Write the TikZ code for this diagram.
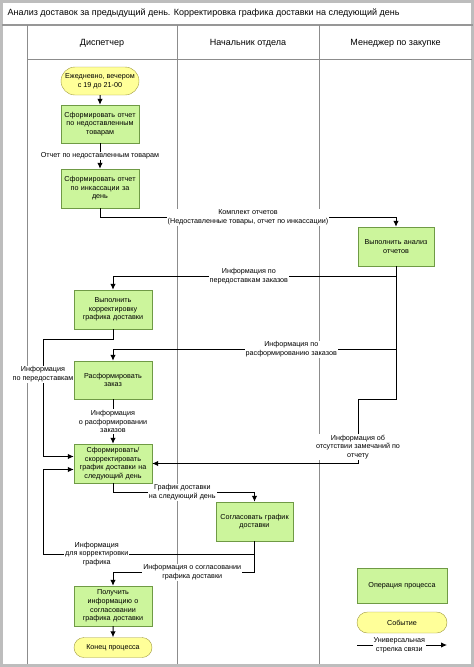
\documentclass[tikz,border=0pt]{standalone}
\usepackage{fontspec}
\setmainfont{Liberation Sans}
\usetikzlibrary{arrows.meta,positioning,shapes.misc}
\definecolor{opfill}{HTML}{CCF59C}
\definecolor{opdraw}{HTML}{6F9A45}
\definecolor{evfill}{HTML}{FFFF99}
\definecolor{evdraw}{HTML}{A09A40}
\definecolor{lanegray}{HTML}{8C8C8C}
\definecolor{framegray}{HTML}{BDBDBD}

\begin{document}
\begin{tikzpicture}[x=1pt, y=-1pt,
            every node/.style={font=\fontsize{7.2}{8.6}\selectfont, align=center},
            op/.style={draw=opdraw, fill=opfill, minimum width=78pt, minimum height=39pt, text width=76pt, inner sep=0pt},
            event/.style={rounded rectangle, draw=evdraw, fill=evfill, minimum width=78pt, minimum height=28pt, inner sep=0pt},
            head/.style={font=\fontsize{9}{10.5}\selectfont},
            lbl/.style={fill=white, inner sep=1pt},
            lane/.style={draw=lanegray, line width=0.8pt},
            link/.style={draw, line width=1pt, -{Latex[length=6pt, width=5.5pt]}}]
        \useasboundingbox (0,0) rectangle (474,667);
        \draw[framegray, line width=3pt] (1.5,1.5) rectangle (472.5,665.5);
        \draw[lane, line width=1.4pt, draw=framegray!80!black] (1.5,25) -- (472.5,25);
        \draw[lane] (27,59) -- (472,59);
        \foreach \lx in {27,177,319}
            \draw[lane] (\lx,25) -- (\lx,664);

        \node[head, anchor=west] (title) at (4,13) {Анализ доставок за предыдущий день. Корректировка графика доставки на следующий день};
        \node[head] (hdisp) at (102,43) {Диспетчер};
        \node[head] (hchief) at (248,43) {Начальник отдела};
        \node[head] (hbuy) at (395.5,43) {Менеджер по закупке};

        \node[event] (start) at (100,81) {Ежедневно, вечером\\с 19 до 21-00};
        \node[op, minimum height=38pt] (rep1) at (100,124) {Сформировать отчет\\по недоставленным\\товарам};
        \node[op] (rep2) at (100,188.5) {Сформировать отчет\\по инкассации за\\день};
        \node[op, minimum width=76pt] (anal) at (396,246.5) {Выполнить анализ\\отчетов};
        \node[op] (corr) at (113,309.5) {Выполнить\\корректировку\\графика доставки};
        \node[op, minimum height=38pt] (disb) at (113,380) {Расформировать\\заказ};
        \node[op] (plan) at (113,463.5) {Сформировать/\\скорректировать\\график доставки на\\следующий день};
        \node[op, minimum width=77pt] (agree) at (254.5,521.5) {Согласовать график\\доставки};
        \node[op, minimum height=40pt] (get) at (113,606) {Получить\\информацию о\\согласовании\\графика доставки};
        \node[event, minimum height=20pt] (fin) at (113,647.5) {Конец процесса};

        \draw[link] (start) -- (rep1);
        \draw[link] (rep1) -- node[lbl]{Отчет по недоставленным товарам} (rep2);
        \draw[link] (rep2.south) -- ++(0,9) -| node[lbl, pos=0.25]{Комплект отчетов\\(Недоставленные товары, отчет по инкассации)} (anal.north);
        \draw[link] (anal.south) -- ++(0,10) -| node[lbl, pos=0.26]{Информация по\\передоставкам заказов} (corr.north);
        \draw[link] (anal.south) -- ++(0,83) -| node[lbl, pos=0.185]{Информация по\\расформированию заказов} (disb.north);
        \draw[link] (anal.south) |- (358,399) |- node[lbl, pos=0.37]{Информация об\\отсутствии замечаний по\\отчету} (plan.east);
        \draw[link] (corr.south) |- (43,339) |- node[lbl, pos=0.15]{Информация\\по передоставкам} ([yshift=7pt]plan.west);
        \draw[link] (disb) -- node[lbl]{Информация\\о расформировании\\заказов} (plan);
        \draw[link] (plan.south) -- ++(0,9) -| node[lbl, pos=0.245]{График доставки\\на следующий день} (agree.north);
        \draw[link] (agree.south) |- node[lbl, pos=0.873]{Информация\\для корректировки\\графика} (43,554) |- ([yshift=-6pt]plan.west);
        \draw[link] (agree.south) -- ++(0,31) -| node[lbl, pos=0.22]{Информация о согласовании\\графика доставки} (get.north);
        \draw[link] (get) -- (fin);

        \node[op, minimum width=90pt, minimum height=35pt, text width=86pt] (legop) at (402,585.5) {Операция процесса};
        \node[event, minimum width=90pt, minimum height=21pt] (legev) at (402,622.5) {Событие};
        \coordinate (legA) at (357,645);
        \coordinate (legB) at (447,645);
        \draw[link] (legA) -- node[lbl, pos=0.47]{Универсальная\\стрелка связи} (legB);
\end{tikzpicture}
\end{document}
